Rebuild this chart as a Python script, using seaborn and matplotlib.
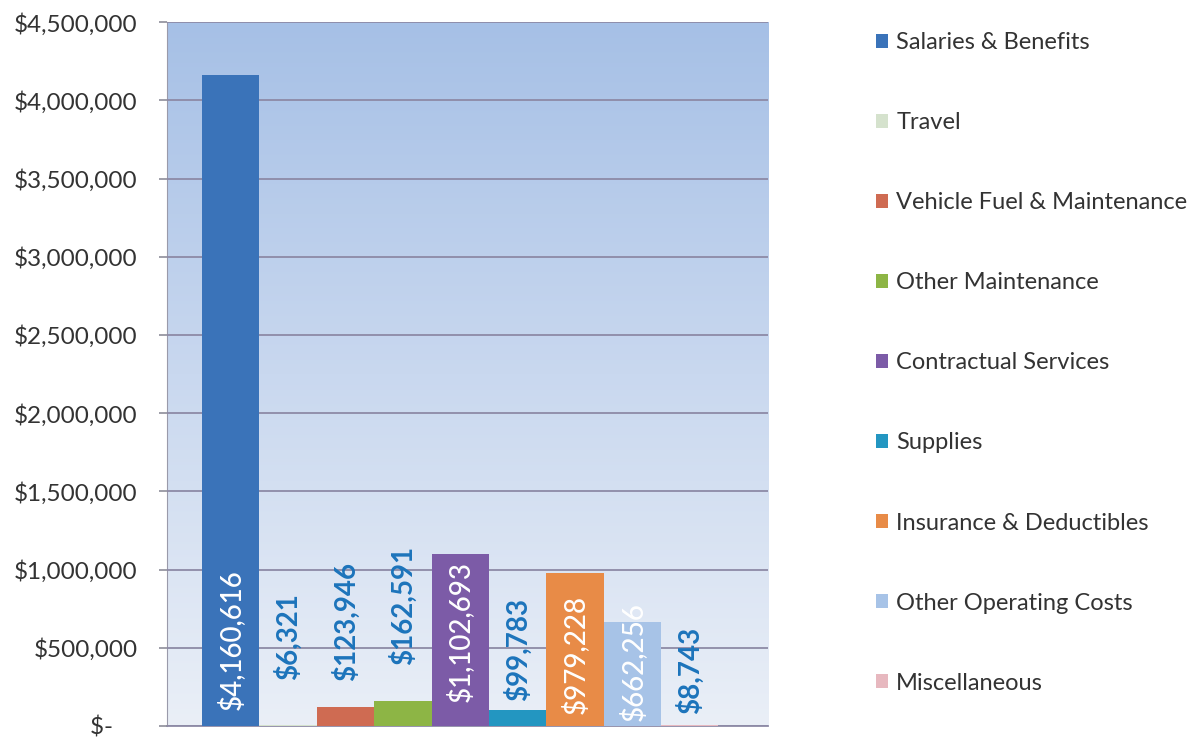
import numpy as np
import pandas as pd
import seaborn as sns
import matplotlib.pyplot as plt
from matplotlib.patches import Patch
from matplotlib.colors import LinearSegmentedColormap
from matplotlib.ticker import FuncFormatter

# budget line items
categories = ['Salaries & Benefits', 'Travel', 'Vehicle Fuel & Maintenance',
              'Other Maintenance', 'Contractual Services', 'Supplies',
              'Insurance & Deductibles', 'Other Operating Costs', 'Miscellaneous']
amounts = [4160616, 6321, 123946, 162591, 1102693, 99783, 979228, 662256, 8743]
colors = ['#3a73b9', '#d5e2cd', '#cf6b52', '#8db545', '#7c5ba7',
          '#2396c1', '#e88b47', '#a7c3e7', '#e7b8bf']
# label colour: white inside the tall bars, blue above the short ones
label_white = [True, False, False, False, True, False, True, True, False]
# where the rotated labels sit (centre height, dollars)
label_y = [550000, 569000, 665000, 773000, 601000, 486000, 460000, 409000, 358000]

df = pd.DataFrame({'category': categories, 'amount': amounts})

sns.set_style('white')
plt.rcParams['font.family'] = ['Lato', 'DejaVu Sans']

fig = plt.figure(figsize=(12.04, 7.39), dpi=100)
ax = fig.add_axes([0.1387, 0.0176, 0.4995, 0.9524])

# gradient plot background
grad = LinearSegmentedColormap.from_list('bg', ['#eaeff7', '#c9d8ef', '#a6c0e6'])
ax.imshow(np.linspace(0, 1, 256).reshape(-1, 1), cmap=grad, origin='lower',
          extent=[0, 1, 0, 1], transform=ax.transAxes, aspect='auto', zorder=0)

sns.barplot(data=df, x='category', y='amount', hue='category', order=categories,
            hue_order=categories, palette=colors, width=1.0, legend=False,
            saturation=1, linewidth=0, edgecolor='none', ax=ax, zorder=3)

ax.set_xlim(-1.11, 9.37)
ax.set_ylim(0, 4500000)
ax.set_yticks(np.arange(0, 4500001, 500000))
# accounting style: zero shown as "$-" with trailing padding
ax.yaxis.set_major_formatter(FuncFormatter(lambda v, p: '$-    ' if v == 0 else f'${v:,.0f}'))
ax.set_xticks([])
ax.set_xlabel('')
ax.set_ylabel('')
ax.grid(axis='y', color='#8d8aa6', lw=1.3, zorder=1)
ax.set_axisbelow(False)
for gl in ax.get_ygridlines():
    gl.set_zorder(1)
ax.tick_params(axis='y', direction='out', length=6, width=1.2, color='#8d8d99',
               pad=15, labelsize=17.5, labelcolor='#333333', left=True)
for s in ['top', 'right']:
    ax.spines[s].set_visible(False)
ax.spines['left'].set_color('#9a9aaa')
ax.spines['bottom'].set_color('#8d8aa6')
ax.spines['bottom'].set_linewidth(1.3)

for i, (v, white, ly) in enumerate(zip(amounts, label_white, label_y)):
    ax.text(i, ly, f'${v:,.0f}', rotation=90, ha='center', va='center',
            color='white' if white else '#1c74bb',
            fontweight='medium' if white else 'bold', fontsize=20, zorder=5)

handles = [Patch(facecolor=c, edgecolor='none') for c in colors]
fig.legend(handles, categories, loc='upper left', bbox_to_anchor=(0.71, 0.985),
           frameon=False, fontsize=17, handlelength=0.5, handleheight=0.5,
           handletextpad=0.35, labelspacing=2.5, labelcolor='#333333')

fig.savefig('out.png', dpi=100)
